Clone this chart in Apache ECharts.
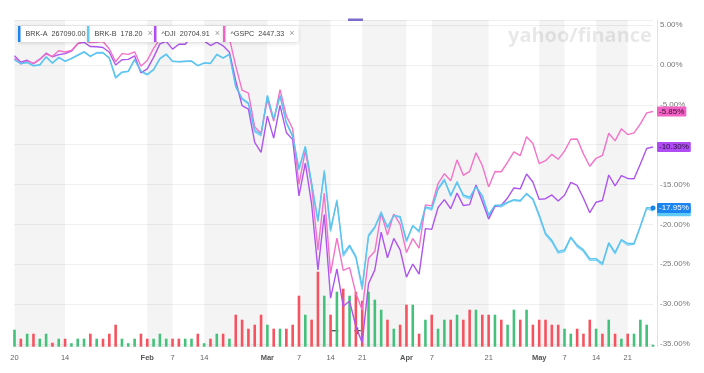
<!DOCTYPE html>
<html><head><meta charset="utf-8">
<script src="https://cdn.jsdelivr.net/npm/echarts@6/dist/echarts.min.js"></script>
<style>html,body{margin:0;padding:0;background:#fff}#c{width:704px;height:373px}</style>
</head><body><div id="c"></div>
<script>
// Trading days 2020 (Jan 2 .. May 28)
const dates = ['01-02','01-03','01-06','01-07','01-08','01-09','01-10','01-13','01-14','01-15','01-16','01-17','01-21','01-22','01-23','01-24','01-27','01-28','01-29','01-30','01-31',
'02-03','02-04','02-05','02-06','02-07','02-10','02-11','02-12','02-13','02-14','02-18','02-19','02-20','02-21','02-24','02-25','02-26','02-27','02-28',
'03-02','03-03','03-04','03-05','03-06','03-09','03-10','03-11','03-12','03-13','03-16','03-17','03-18','03-19','03-20','03-23','03-24','03-25','03-26','03-27','03-30','03-31',
'04-01','04-02','04-03','04-06','04-07','04-08','04-09','04-13','04-14','04-15','04-16','04-17','04-20','04-21','04-22','04-23','04-24','04-27','04-28','04-29','04-30',
'05-01','05-04','05-05','05-06','05-07','05-08','05-11','05-12','05-13','05-14','05-15','05-18','05-19','05-20','05-21','05-22','05-26','05-27','05-28'];

// x-axis tick labels (placed on the trading day shown)
const tickDates = ['01-02','01-14','02-03','02-07','02-14','03-02','03-09','03-16','03-23','04-01','04-07','04-21','05-01','05-07','05-14','05-21'];
const tickTexts = ['20','14','Feb','7','14','Mar','7','14','21','Apr','7','21','May','7','14','21'];

// % change series
const brkA = [0.62,0.15,0.33,-0.12,0.02,0.98,0.25,0.90,0.48,0.78,1.20,1.60,1.10,1.48,1.50,0.88,-1.55,-0.90,-0.78,0.65,-0.78,
-1.18,-0.58,0.76,1.30,0.47,0.38,0.46,0.45,-0.08,0.26,0.17,1.28,0.88,1.32,-2.7,-4.2,-4.8,-8.2,-8.7,
-3.9,-6.8,-3.9,-7.2,-8.9,-13.0,-10.3,-14.8,-19.5,-13.4,-20.6,-17.1,-23.7,-22.6,-24.0,-27.8,-21.5,-20.4,-18.6,-20.3,-18.9,-19.0,
-22.0,-20.2,-20.8,-17.8,-18.0,-15.6,-14.5,-16.3,-14.8,-16.3,-16.6,-15.3,-16.4,-18.8,-17.6,-17.6,-17.2,-16.9,-17.0,-16.2,-16.8,
-18.8,-21.1,-22.0,-23.4,-23.2,-21.6,-22.6,-23.2,-24.3,-24.3,-24.9,-22.3,-23.5,-21.9,-22.4,-22.4,-20.2,-17.9,-17.95];
const brkB = [0.71,0.21,0.29,-0.08,-0.04,1.04,0.21,0.96,0.42,0.83,1.25,1.67,1.04,1.55,1.55,0.83,-1.67,-0.96,-0.84,0.71,-0.84,
-1.25,-0.63,0.83,1.38,0.42,0.42,0.42,0.50,-0.13,0.21,0.21,1.34,0.83,1.38,-2.8,-4.3,-4.9,-8.4,-8.9,
-3.8,-6.9,-3.8,-7.3,-9.0,-13.2,-10.2,-15.0,-19.7,-13.2,-20.9,-16.9,-24.0,-22.8,-24.2,-28.2,-21.3,-20.3,-18.4,-20.5,-18.8,-19.2,
-22.2,-20.1,-21.0,-17.9,-18.2,-15.5,-14.3,-16.5,-14.6,-16.5,-16.8,-15.2,-16.5,-19.0,-17.7,-17.8,-17.3,-17.0,-17.1,-16.1,-16.9,
-19.0,-21.3,-22.2,-23.6,-23.4,-21.7,-22.8,-23.4,-24.5,-24.5,-25.1,-22.4,-23.7,-22.0,-22.6,-22.5,-20.3,-18.0,-18.35];
const dji = [1.16,0.34,0.58,0.16,0.72,1.47,1.00,1.29,1.41,1.72,2.66,2.84,2.30,2.27,2.18,1.58,-0.01,0.65,0.69,1.12,-0.99,
-0.49,0.94,2.64,2.95,1.98,2.59,2.59,3.55,3.10,3.01,2.43,2.84,2.39,1.59,-2.02,-5.11,-5.54,-9.71,-10.96,
-6.43,-9.18,-5.07,-8.47,-9.37,-16.43,-12.33,-17.47,-25.71,-18.76,-29.26,-25.58,-30.27,-29.61,-32.81,-34.85,-27.45,-25.71,-20.98,-24.18,-21.76,-23.20,
-26.61,-24.97,-26.23,-20.53,-20.62,-17.89,-16.89,-18.04,-16.08,-17.64,-17.52,-15.05,-17.13,-19.34,-17.74,-17.60,-16.69,-15.43,-15.55,-13.68,-14.69,
-16.87,-16.78,-16.31,-17.08,-16.34,-14.74,-15.12,-16.73,-18.54,-17.22,-17.00,-13.81,-15.18,-13.88,-14.24,-14.27,-12.42,-10.48,-10.30];
const gspc = [0.84,0.12,0.48,0.20,0.69,1.36,1.07,1.78,1.62,1.81,2.66,3.06,2.79,2.82,2.93,2.00,0.40,1.41,1.32,1.64,-0.16,
0.56,2.07,3.22,3.56,3.00,3.75,3.93,4.60,4.43,4.62,4.32,4.81,4.41,3.31,-0.15,-3.17,-3.54,-7.80,-8.56,
-4.35,-7.04,-3.11,-6.40,-8.00,-14.99,-10.79,-15.15,-23.22,-16.09,-26.14,-21.72,-25.77,-25.42,-28.66,-30.75,-24.25,-23.38,-18.59,-21.34,-18.70,-20.00,
-23.53,-21.79,-22.97,-17.55,-17.68,-14.88,-13.65,-14.52,-11.91,-13.85,-13.35,-11.03,-12.62,-15.30,-13.36,-13.40,-12.20,-10.90,-11.37,-9.02,-9.85,
-12.38,-12.01,-11.22,-11.84,-10.82,-9.32,-9.30,-11.16,-12.71,-11.71,-11.36,-8.57,-9.53,-8.02,-8.74,-8.52,-7.40,-6.02,-5.85];

// volume (relative units) and day direction (1 = up, 0 = down)
const volume = [17,8,13,13,8,13,4,8,8,3.5, 8,8,13,8,8,13,22,8,3.5,8, 13,8,8,13,8,8,8,8,8,13,
3.5,8,13,13,8,32,27,18,22,32, 22,18,18,18,22,51,32,27,75,51, 32,55,58,51,55,46,55,47,37,27,
18,22,42,42,13,27,32,18,27,27, 32,27,37,37,32,32,32,27,22,37, 27,37,22,27,27,22,22,18,13,18,
13,27,18,13,27,13,8,13,13,27, 22,2];
const volUp = [1,0,1,0,1,1,0,1,0,1, 1,1,0,1,0,0,0,1,1,1, 0,0,1,1,1,0,0,1,1,0,
1,0,1,0,1,0,0,0,0,0, 1,0,1,0,0,0,1,0,0,1, 0,1,0,1,0,0,1,1,1,0,
1,0,0,1,0,1,0,1,1,0, 1,0,0,1,0,0,1,0,1,1, 0,1,0,0,0,0,0,1,1,0,
0,0,1,0,1,0,1,0,1,1, 1,1];

const legendNames = ['BRK-A','BRK-B','^DJI','^GSPC'];
const legendValues = ['267090.00','178.20','20704.91','2447.33'];

const colors = {'BRK-A':'#1b84f0','BRK-B':'#5fcbf5','^DJI':'#b04cf4','^GSPC':'#f262c5'};
const lineColors = {'BRK-A':'#5cc3f0','BRK-B':'#7dd3f6','^DJI':'#ad55ee','^GSPC':'#f472c8'};
const tagText = {'BRK-A':'#fff','BRK-B':'#fff','^DJI':'#2a1238','^GSPC':'#3a1030'};
const seriesData = {'BRK-A':brkA,'BRK-B':brkB,'^DJI':dji,'^GSPC':gspc};

const tickMap = {};
tickDates.forEach((d,k)=>{tickMap[d]=tickTexts[k];});
const bands = [];
for (let k=0;k+1<tickDates.length;k+=2) bands.push([{xAxis:dates.indexOf(tickDates[k])},{xAxis:dates.indexOf(tickDates[k+1])}]);

const chart = echarts.init(document.getElementById('c'), null, {renderer:'canvas'});
const font = '"Liberation Sans", Arial, sans-serif';
const lastIdx = dates.length - 1;

function lineSeries(name, z){
  return {
    name, type:'line', data: seriesData[name], z,
    showSymbol: true, showAllSymbol: true, symbol:'circle',
    symbolSize: (v,p)=> (name==='BRK-A' && p.dataIndex===lastIdx) ? 5 : 0,
    itemStyle:{color: colors[name]},
    lineStyle:{color: lineColors[name], width:1.4},
    emphasis:{disabled:true},
    endLabel:{show:true, formatter: p=> p.value.toFixed(2)+'%', backgroundColor: colors[name],
      color: tagText[name], fontSize:8, fontFamily: font, padding:[1,2,1,2], distance:4, borderRadius:1}
  };
}

const bandSeries = {name:'bands', type:'line', data: dates.map(()=>null), silent:true, z:1,
  showSymbol:false, lineStyle:{width:0},
  markArea:{silent:true, itemStyle:{color:'rgba(0,0,0,0.042)'}, data: bands}};

chart.setOption({
  animation:false,
  textStyle:{fontFamily: font},
  grid:{left:14.5, right:51, top:20, bottom:26.3},
  legend: legendNames.map((n,k)=>({
    data:[n], left:[18,87,154,223][k], top:26, icon:'rect', itemWidth:2.5, itemHeight:16,
    padding:[0,4,0,0], backgroundColor:'#fff', borderRadius:2,
    shadowBlur:4, shadowColor:'rgba(0,0,0,0.16)', shadowOffsetY:1, selectedMode:false,
    textStyle:{fontSize:7.2, color:'#444', fontFamily: font, rich:{x:{color:'#9a9a9a', fontSize:9, padding:[0,0,0,5]}}},
    formatter: nm => nm + '  ' + legendValues[k] + (k>0 ? '{x|×}' : '')
  })),
  xAxis:{type:'category', data: dates, boundaryGap:false,
    axisLine:{show:false}, axisTick:{show:false}, splitLine:{show:false},
    axisLabel:{interval:(i,v)=> tickMap[v]!==undefined, margin:7, fontSize:7.5, color:'#666',
      formatter:(v)=>{const t=tickMap[v]; return isNaN(Number(t)) ? '{m|'+t+'}' : t;},
      rich:{m:{fontWeight:'bold', color:'#555', fontSize:7.5}}}},
  yAxis:[
    {type:'value', position:'right', min:-35.34, max:5.63, splitNumber:8, offset:4,
     axisLine:{show:true, lineStyle:{color:'#e2e2e2'}}, axisTick:{show:false},
     axisLabel:{formatter:v=>v.toFixed(2)+'%', color:'#777', fontSize:8, margin:3, showMinLabel:false, showMaxLabel:false},
     splitLine:{lineStyle:{color:'#efefef', width:1}}},
    {type:'value', min:0, max:326.7, show:false}
  ],
  series:[
    bandSeries,
    {name:'Volume', type:'bar', yAxisIndex:1, barWidth:2.6, clip:false, silent:true, z:2,
     data: volume.map((v,i)=>({value:v, itemStyle:{color: volUp[i] ? '#45c17c' : '#f4535f'}}))},
    lineSeries('BRK-B',3),
    lineSeries('^DJI',3),
    lineSeries('^GSPC',3),
    lineSeries('BRK-A',4)
  ],
  graphic:[
    {type:'text', left:508, top:26, z:1, silent:true,
     style:{text:'yahoo/finance', font:'bold 20px "Open Sans", sans-serif', fill:'rgba(0,0,0,0.09)'}},
    {type:'rect', shape:{x:348, y:18.5, width:15, height:2.5}, style:{fill:'#7a6ccb'}, z:10, silent:true},
    {type:'group', z:20, silent:true, children:[
      {type:'rect', shape:{x:322, y:321, width:50, height:21, r:2}, style:{fill:'rgba(255,255,255,0.72)'}},
      {type:'text', x:335, y:331.5, style:{text:'−', font:'bold 13px '+font, fill:'#555', align:'center', verticalAlign:'middle'}},
      {type:'text', x:357.5, y:331.5, style:{text:'+', font:'bold 13px '+font, fill:'#555', align:'center', verticalAlign:'middle'}}
    ]}
  ]
});
</script></body></html>
